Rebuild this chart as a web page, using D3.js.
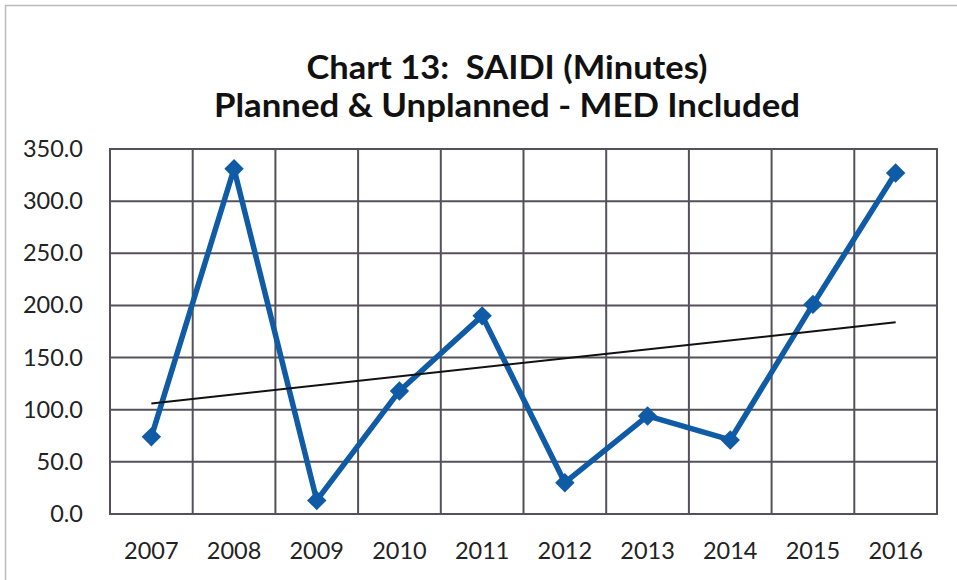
<!DOCTYPE html>
<meta charset="utf-8">
<style>
body {
  margin: 0;
  background: #fff;
  font-family: Lato, "Open Sans", sans-serif;
}
.grid line, .frame {
  fill: none;
  stroke: #55505a;
  stroke-width: 2;
}
.tick-label {
  font-size: 23.5px;
  fill: #222;
}
.title {
  white-space: pre;
}
</style>
<body>
<script src="https://cdn.jsdelivr.net/npm/d3@7"></script>
<script>

var width = 957,
    height = 580;

var years = ["2007", "2008", "2009", "2010", "2011", "2012", "2013", "2014", "2015", "2016"];
var saidi = [74, 331, 13, 118, 190, 30, 94, 71, 201, 327];
var yTicks = [0, 50, 100, 150, 200, 250, 300, 350];
var titleLines = ["Chart 13:  SAIDI (Minutes)", "Planned & Unplanned - MED Included"];

var plot = {left: 110, right: 937, top: 149, bottom: 514};

var svg = d3.select("body").append("svg")
    .attr("width", width)
    .attr("height", height);

// outer chart border
svg.append("rect")
    .attr("x", 5.5).attr("y", 5.5)
    .attr("width", width).attr("height", height)
    .attr("fill", "none")
    .attr("stroke", "#bbb")
    .attr("stroke-width", 1.5);

var x = d3.scaleBand()
    .domain(years)
    .range([plot.left, plot.right]);

var y = d3.scaleLinear()
    .domain([0, 350])
    .range([plot.bottom, plot.top]);

// title
svg.selectAll(".title")
    .data(titleLines)
  .enter().append("text")
    .attr("class", "title")
    .attr("x", 507)
    .attr("y", function(d, i) { return 79 + i * 38; })
    .attr("text-anchor", "middle")
    .attr("font-weight", "bold")
    .attr("font-size", 32)
    .attr("fill", "#111")
    .text(function(d) { return d; })
    .each(function(d, i) {
      // match the calibri width of the original
      var target = i == 0 ? 401 : 586;
      d3.select(this).attr("textLength", target).attr("lengthAdjust", "spacingAndGlyphs");
    });

// grid
var grid = svg.append("g").attr("class", "grid");

grid.selectAll(".h")
    .data(yTicks)
  .enter().append("line")
    .attr("x1", plot.left).attr("x2", plot.right)
    .attr("y1", function(d) { return y(d); })
    .attr("y2", function(d) { return y(d); });

grid.selectAll(".v")
    .data(years.slice(1))
  .enter().append("line")
    .attr("x1", function(d) { return x(d); })
    .attr("x2", function(d) { return x(d); })
    .attr("y1", plot.top).attr("y2", plot.bottom);

svg.append("rect")
    .attr("class", "frame")
    .attr("x", plot.left).attr("y", plot.top)
    .attr("width", plot.right - plot.left)
    .attr("height", plot.bottom - plot.top);

// axis labels
svg.selectAll(".ylab")
    .data(yTicks)
  .enter().append("text")
    .attr("class", "tick-label")
    .attr("x", 83)
    .attr("y", function(d) { return y(d) + 8; })
    .attr("text-anchor", "end")
    .text(function(d) { return d3.format(".1f")(d); });

svg.selectAll(".xlab")
    .data(years)
  .enter().append("text")
    .attr("class", "tick-label")
    .attr("x", function(d) { return x(d) + x.bandwidth() / 2; })
    .attr("y", 559)
    .attr("text-anchor", "middle")
    .text(function(d) { return d; });

var cx = function(d, i) { return x(years[i]) + x.bandwidth() / 2; };

// data line
svg.append("path")
    .datum(saidi)
    .attr("fill", "none")
    .attr("stroke", "#0f5ba6")
    .attr("stroke-width", 5.5)
    .attr("stroke-linejoin", "round")
    .attr("d", d3.line().x(cx).y(function(d) { return y(d); }));

// linear trendline
var n = saidi.length,
    mx = d3.mean(d3.range(n)),
    my = d3.mean(saidi);
var slope = d3.sum(saidi, function(d, i) { return (i - mx) * (d - my); }) /
            d3.sum(d3.range(n), function(i) { return (i - mx) * (i - mx); });
var trend = [0, n - 1].map(function(i) { return [i, my + slope * (i - mx)]; });

svg.append("line")
    .attr("x1", cx(null, trend[0][0])).attr("y1", y(trend[0][1]))
    .attr("x2", cx(null, trend[1][0])).attr("y2", y(trend[1][1]))
    .attr("stroke", "#111")
    .attr("stroke-width", 2);

// diamond markers
svg.selectAll(".point")
    .data(saidi)
  .enter().append("path")
    .attr("class", "point")
    .attr("transform", function(d, i) { return "translate(" + cx(d, i) + "," + y(d) + ")"; })
    .attr("d", d3.symbol().type(d3.symbolDiamond2).size(240))
    .attr("fill", "#0f5ba6");

</script>
